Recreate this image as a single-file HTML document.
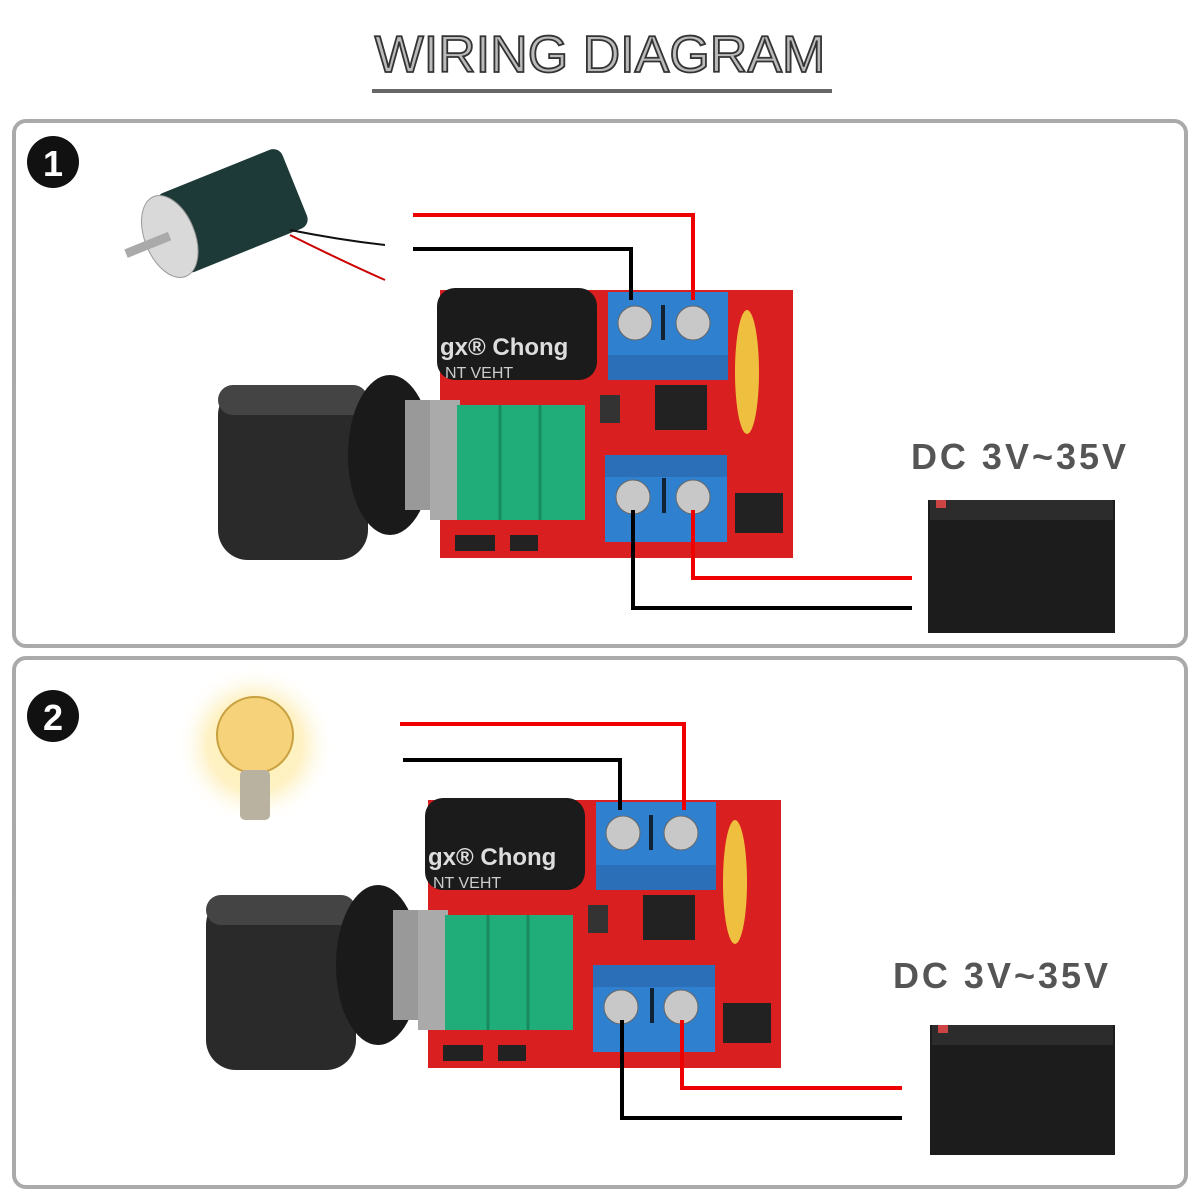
<!DOCTYPE html>
<html><head><meta charset="utf-8"><style>
html,body{margin:0;padding:0;background:#fff;width:1200px;height:1200px;overflow:hidden}
</style></head><body>
<svg width="1200" height="1200" viewBox="0 0 1200 1200" xmlns="http://www.w3.org/2000/svg">
<defs>
<radialGradient id="glow" cx="50%" cy="50%" r="50%">
<stop offset="0" stop-color="#fff3b0"/><stop offset="0.6" stop-color="#fde9a0" stop-opacity="0.6"/><stop offset="1" stop-color="#fff" stop-opacity="0"/>
</radialGradient>
<g id="board">
  <rect x="218" y="385" width="150" height="175" rx="30" fill="#2a2a2a"/>
  <rect x="218" y="385" width="150" height="30" rx="15" fill="#444"/>
  <ellipse cx="390" cy="455" rx="42" ry="80" fill="#1a1a1a"/>
  <rect x="405" y="400" width="30" height="110" fill="#999"/>
  <rect x="440" y="290" width="353" height="268" fill="#d91f1f"/>
  <rect x="430" y="400" width="30" height="120" fill="#aaa"/>
  <rect x="457" y="405" width="128" height="115" fill="#20ad7a"/>
  <line x1="500" y1="405" x2="500" y2="520" stroke="#178a60" stroke-width="3"/>
  <line x1="540" y1="405" x2="540" y2="520" stroke="#178a60" stroke-width="3"/>
  <rect x="437" y="288" width="160" height="92" rx="18" fill="#1b1b1b"/>
  <text x="440" y="355" font-family="Liberation Sans,sans-serif" font-weight="bold" font-size="24" fill="#ddd">gx® Chong</text>
  <text x="445" y="378" font-family="Liberation Sans,sans-serif" font-size="16" fill="#ccc">NT      VEHT</text>
  <rect x="608" y="292" width="120" height="88" fill="#2f80cf"/>
  <rect x="608" y="355" width="120" height="25" fill="#2a6fb8"/>
  <circle cx="635" cy="323" r="17" fill="#c8c8c8" stroke="#666"/>
  <circle cx="693" cy="323" r="17" fill="#c8c8c8" stroke="#666"/>
  <rect x="661" y="305" width="4" height="35" fill="#123"/>
  <rect x="605" y="455" width="122" height="87" fill="#2f80cf"/>
  <rect x="605" y="455" width="122" height="22" fill="#2a6fb8"/>
  <circle cx="633" cy="497" r="17" fill="#c8c8c8" stroke="#666"/>
  <circle cx="693" cy="497" r="17" fill="#c8c8c8" stroke="#666"/>
  <rect x="662" y="478" width="4" height="35" fill="#123"/>
  <ellipse cx="747" cy="372" rx="12" ry="62" fill="#efc040"/>
  <rect x="655" y="385" width="52" height="45" fill="#222"/>
  <rect x="735" y="493" width="48" height="40" fill="#222"/>
  <rect x="600" y="395" width="20" height="28" fill="#333"/>
  <rect x="455" y="535" width="40" height="16" fill="#222"/>
  <rect x="510" y="535" width="28" height="16" fill="#222"/>
</g>
</defs>

<text x="600" y="72" text-anchor="middle" font-family="Liberation Sans,sans-serif" font-size="52" fill="#bbb" stroke="#333" stroke-width="1.8">WIRING DIAGRAM</text>
<rect x="372" y="89" width="460" height="4" fill="#666"/>

<rect x="14" y="121" width="1172" height="525" rx="12" fill="#fff" stroke="#aaa" stroke-width="4"/>
<rect x="14" y="658" width="1172" height="529" rx="12" fill="#fff" stroke="#aaa" stroke-width="4"/>

<circle cx="53" cy="162" r="26" fill="#111"/>
<text x="53" y="176" text-anchor="middle" font-family="Liberation Sans,sans-serif" font-weight="bold" font-size="36" fill="#fff">1</text>
<circle cx="53" cy="716" r="26" fill="#111"/>
<text x="53" y="730" text-anchor="middle" font-family="Liberation Sans,sans-serif" font-weight="bold" font-size="36" fill="#fff">2</text>

<g transform="rotate(-22 215 215)">
  <rect x="165" y="175" width="135" height="85" rx="10" fill="#1e3a38"/>
  <ellipse cx="165" cy="218" rx="25" ry="43" fill="#d9d9d9" stroke="#999"/>
  <rect x="118" y="213" width="47" height="9" fill="#aaa"/>
</g>
<path d="M290 230 Q340 240 385 245" stroke="#111" stroke-width="2" fill="none"/>
<path d="M290 235 Q340 260 385 280" stroke="#c00" stroke-width="2" fill="none"/>

<circle cx="255" cy="745" r="80" fill="url(#glow)"/>
<circle cx="255" cy="735" r="38" fill="#f6d27a" stroke="#c9a040" stroke-width="2"/>
<rect x="240" y="770" width="30" height="50" rx="5" fill="#b9b2a0"/>

<use href="#board"/>
<use href="#board" transform="translate(-12 510)"/>

<g fill="none" stroke-width="4">
<path d="M413 215 H693 V300" stroke="#e00"/>
<path d="M413 249 H631 V300" stroke="#000"/>
<path d="M693 510 V578 H912" stroke="#e00"/>
<path d="M633 510 V608 H912" stroke="#000"/>
<path d="M400 724 H684 V810" stroke="#e00"/>
<path d="M403 760 H620 V810" stroke="#000"/>
<path d="M682 1020 V1088 H902" stroke="#e00"/>
<path d="M622 1020 V1118 H902" stroke="#000"/>
</g>

<rect x="928" y="500" width="187" height="133" fill="#1c1c1c"/>
<rect x="930" y="500" width="183" height="20" fill="#2c2c2c"/>
<rect x="936" y="500" width="10" height="8" fill="#c44"/>
<rect x="930" y="1025" width="185" height="130" fill="#1c1c1c"/>
<rect x="932" y="1025" width="181" height="20" fill="#2c2c2c"/>
<rect x="938" y="1025" width="10" height="8" fill="#c44"/>

<text x="1020" y="469" text-anchor="middle" font-family="Liberation Sans,sans-serif" font-weight="bold" font-size="36" letter-spacing="3" fill="#555">DC 3V~35V</text>
<text x="1002" y="988" text-anchor="middle" font-family="Liberation Sans,sans-serif" font-weight="bold" font-size="36" letter-spacing="3" fill="#555">DC 3V~35V</text>
</svg>
</body></html>
